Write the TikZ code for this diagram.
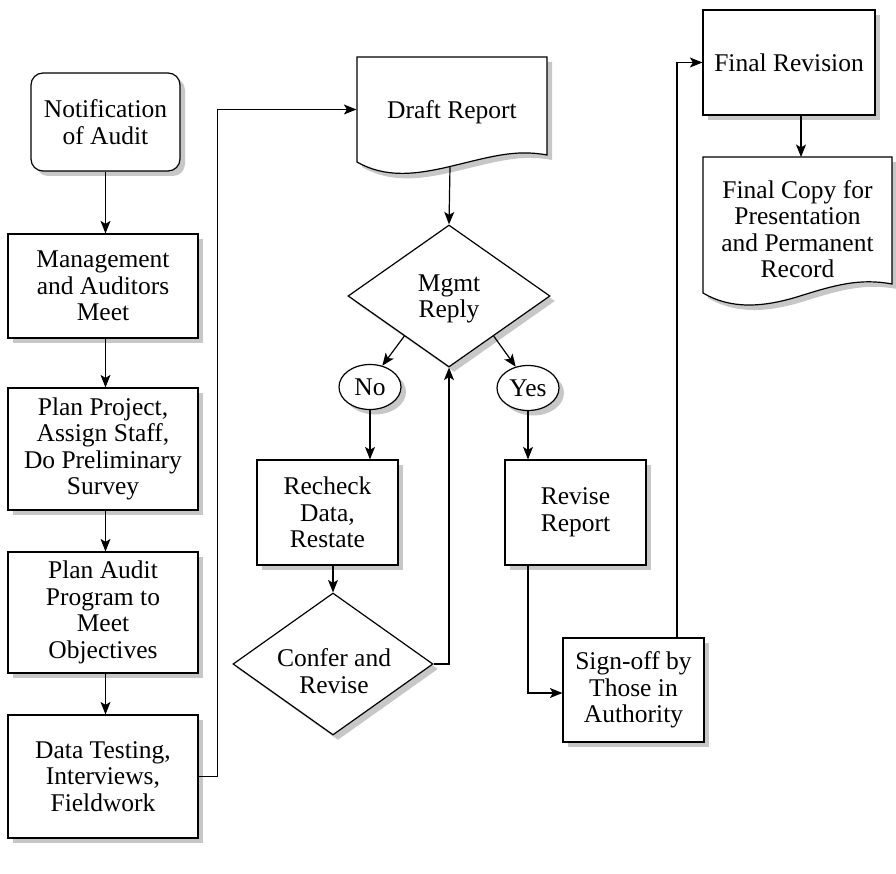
\documentclass[tikz,border=0pt]{standalone}
\usepackage{fontspec}
\setmainfont{Liberation Serif}
\usetikzlibrary{shapes.geometric,shadows,arrows.meta,calc}
\begin{document}
\begin{tikzpicture}[x=1pt,y=-1pt,
  font=\fontsize{25.5}{26.5}\selectfont,
  line width=1.2pt,
  shad/.style={drop shadow={shadow xshift=5pt,shadow yshift=-5pt,fill=black!22,opacity=1}},
  box/.style={draw,fill=white,rectangle,inner sep=0pt,align=center,shad},
  dia/.style={draw,fill=white,diamond,aspect=1.42,inner sep=0pt,align=center,shad,minimum width=202pt,minimum height=142pt},
  ell/.style={draw,fill=white,ellipse,inner sep=0pt,minimum width=62pt,minimum height=45pt,shad},
  txt/.style={inner sep=0pt,align=center},
  arr/.style={-{Stealth[length=12.5pt,width=10pt,inset=3pt]}}
]
\useasboundingbox (0,0) rectangle (896,874);

% left column
\node[box,rounded corners=12pt,minimum width=149pt,minimum height=98pt] (notif) at (105.5,122) {Notification\\of Audit};
\node[box,minimum width=190pt,minimum height=104pt] (mgmt) at (103,286) {Management\\and Auditors\\Meet};
\node[box,minimum width=190pt,minimum height=122pt] (plan) at (103,449) {Plan Project,\\Assign Staff,\\Do Preliminary\\Survey};
\node[box,minimum width=190pt,minimum height=121pt] (prog) at (103,612.5) {Plan Audit\\Program to\\Meet\\Objectives};
\node[box,minimum width=190pt,minimum height=123pt] (data) at (103,776.5) {Data Testing,\\Interviews,\\Fieldwork};

% draft report document
\begin{scope}[shift={(5,5)}]
\fill[black!22] (357,57) -- (547,57) -- (547,155) .. controls (515,149) and (490,157) .. (452,166) .. controls (415,175) and (385,178) .. (357,162) -- cycle;
\end{scope}
\draw[fill=white] (357,57) -- (547,57) -- (547,155) .. controls (515,149) and (490,157) .. (452,166) .. controls (415,175) and (385,178) .. (357,162) -- cycle;
\node[txt,minimum width=190pt,minimum height=105pt] (draft) at (452,109.5) {};
\node[txt] (drafttxt) at (452,112) {Draft Report};
\coordinate (draftb) at (450,166.5);

\node[dia] (reply) at (449,296) {};
\node[txt] (replytxt) at (449,299) {Mgmt\\Reply};
\node[ell] (no) at (370,387) {No};
\node[ell] (yes) at (528,388) {Yes};
\node[box,minimum width=141pt,minimum height=105pt] (recheck) at (327.5,512.5) {Recheck\\Data,\\Restate};
\node[dia,minimum width=200pt] (confer) at (333,664) {};
\node[txt] (confertxt) at (334,671) {Confer and\\Revise};
\node[box,minimum width=141pt,minimum height=105pt] (revise) at (575.5,512.5) {Revise\\Report};
\node[box,minimum width=141pt,minimum height=104pt] (sign) at (633.5,690) {Sign-off by\\Those in\\Authority};
\node[box,minimum width=172pt,minimum height=105pt] (finalrev) at (789,62.5) {Final Revision};

% final copy document
\begin{scope}[shift={(5,5)}]
\fill[black!22] (703,157) -- (892,157) -- (892,284) .. controls (860,278) and (835,285) .. (800,296) .. controls (762,308) and (730,309) .. (703,293) -- cycle;
\end{scope}
\draw[fill=white] (703,157) -- (892,157) -- (892,284) .. controls (860,278) and (835,285) .. (800,296) .. controls (762,308) and (730,309) .. (703,293) -- cycle;
\node[txt] (finalcopy) at (797.5,229) {Final Copy for\\Presentation\\and Permanent\\Record};
\coordinate (fctop) at (801,157);

% connectors
\draw[arr] (notif.south) -- (notif.south |- mgmt.north);
\draw[arr] (notif.south |- mgmt.south) -- (notif.south |- plan.north);
\draw[arr] (notif.south |- plan.south) -- (notif.south |- prog.north);
\draw[arr] (notif.south |- prog.south) -- (notif.south |- data.north);
\draw[arr] (data.east) -- ++(19,0) |- (draft.west);
\draw[arr] (draftb) -- (reply.north);
\draw[arr] ($(reply.west)!0.56!(reply.south)$) -- (no.60);
\draw[arr] ($(reply.east)!0.56!(reply.south)$) -- (yes.120);
\draw[arr] (no.south) -- (no.south |- recheck.north);
\draw[arr] (confer.north |- recheck.south) -- (confer.north);
\draw[arr] (confer.east) -| (reply.south);
\draw[arr] (yes.south) -- (yes.south |- revise.north);
\draw[arr] (yes.south |- revise.south) |- ($(sign.west)+(0,3)$);
\draw[arr] ($(sign.north)+(43.5,0)$) |- (finalrev.west);
\draw[arr] (finalrev.south -| fctop) -- (fctop);
\end{tikzpicture}
\end{document}
